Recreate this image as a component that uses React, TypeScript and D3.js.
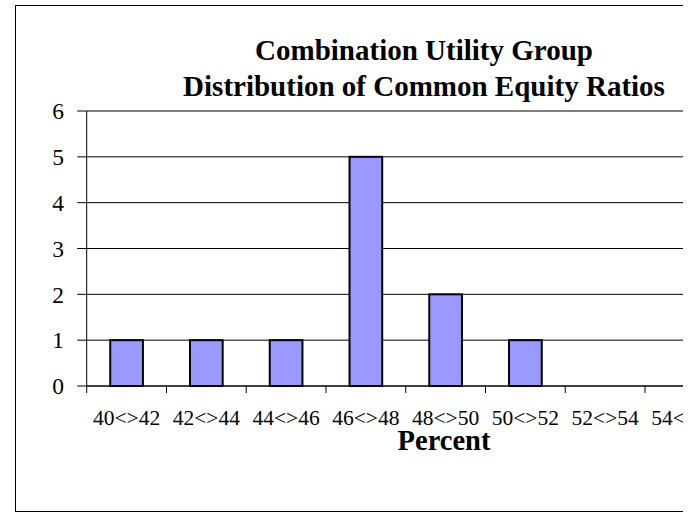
import React from 'react'
import * as d3 from 'd3'

const categories = ['40<>42', '42<>44', '44<>46', '46<>48', '48<>50', '50<>52', '52<>54', '54<>56']
const counts = [1, 1, 1, 5, 2, 1, 0, 0]
const yTicks = [0, 1, 2, 3, 4, 5, 6]
const titleLines = ['Combination Utility Group', 'Distribution of Common Equity Ratios']

const WIDTH = 700
const HEIGHT = 514
const FONT = '"Liberation Serif"'

const plot = { left: 86.7, top: 111, bottom: 386, band: 79.76 }

const Chart: React.FC = () => {
    const x = d3
        .scaleBand<string>()
        .domain(categories)
        .range([plot.left, plot.left + plot.band * categories.length])
        .paddingInner(0)
        .paddingOuter(0)

    const y = d3.scaleLinear().domain([0, 6]).range([plot.bottom, plot.top])
    const barW = x.bandwidth() * 0.41
    const xEnd = x.range()[1]

    return (
        <svg width={WIDTH} height={HEIGHT} style={{ position: 'absolute', left: 0, top: 0 }} fontFamily={FONT}>
            <defs>
                <clipPath id="cut">
                    <rect x={0} y={0} width={683} height={HEIGHT} />
                </clipPath>
            </defs>
            <g clipPath="url(#cut)">
                {/* outer chart border, right side cut off */}
                <rect x={15.5} y={5.5} width={900} height={506} fill="white" stroke="#000" />

                {/* gridlines */}
                {yTicks
                    .filter((d) => d > 0)
                    .map((d) => (
                        <line key={d} x1={plot.left} x2={xEnd} y1={y(d)} y2={y(d)} stroke="#000" />
                    ))}

                {/* y axis */}
                <line x1={plot.left} x2={plot.left} y1={plot.top} y2={plot.bottom} stroke="#000" />
                {yTicks.map((d) => (
                    <g key={d}>
                        <line x1={plot.left - 9.5} x2={plot.left} y1={y(d)} y2={y(d)} stroke="#000" />
                        <text x={64} y={y(d)} dy="0.35em" textAnchor="end" fontSize={23.5} fontFamily={FONT}>
                            {d}
                        </text>
                    </g>
                ))}

                {/* bars */}
                {counts.map((d, i) =>
                    d > 0 ? (
                        <rect
                            key={categories[i]}
                            x={x(categories[i])! + (x.bandwidth() - barW) / 2}
                            y={y(d)}
                            width={barW}
                            height={plot.bottom - y(d)}
                            fill="#9999FF"
                            stroke="#000"
                            strokeWidth={2}
                        />
                    ) : null
                )}

                {/* x axis */}
                <line x1={plot.left} x2={xEnd} y1={plot.bottom} y2={plot.bottom} stroke="#000" strokeWidth={1.5} />
                {d3.range(categories.length + 1).map((i) => (
                    <line
                        key={i}
                        x1={plot.left + i * x.bandwidth()}
                        x2={plot.left + i * x.bandwidth()}
                        y1={plot.bottom}
                        y2={plot.bottom + 7}
                        stroke="#000"
                    />
                ))}
                {categories.map((c) => (
                    <text key={c} x={x(c)! + x.bandwidth() / 2} y={425} textAnchor="middle" fontSize={21.5} fontFamily={FONT}>
                        {c}
                    </text>
                ))}

                {/* axis title */}
                <text x={444} y={450} textAnchor="middle" fontWeight="bold" fontSize={28.5} fontFamily={FONT}>
                    Percent
                </text>

                {/* chart title */}
                {titleLines.map((t, i) => (
                    <text key={t} x={424} y={60 + i * 36} textAnchor="middle" fontWeight="bold" fontSize={29} fontFamily={FONT}>
                        {t}
                    </text>
                ))}
            </g>
        </svg>
    )
}

export default function App() {
    return <Chart />
}
